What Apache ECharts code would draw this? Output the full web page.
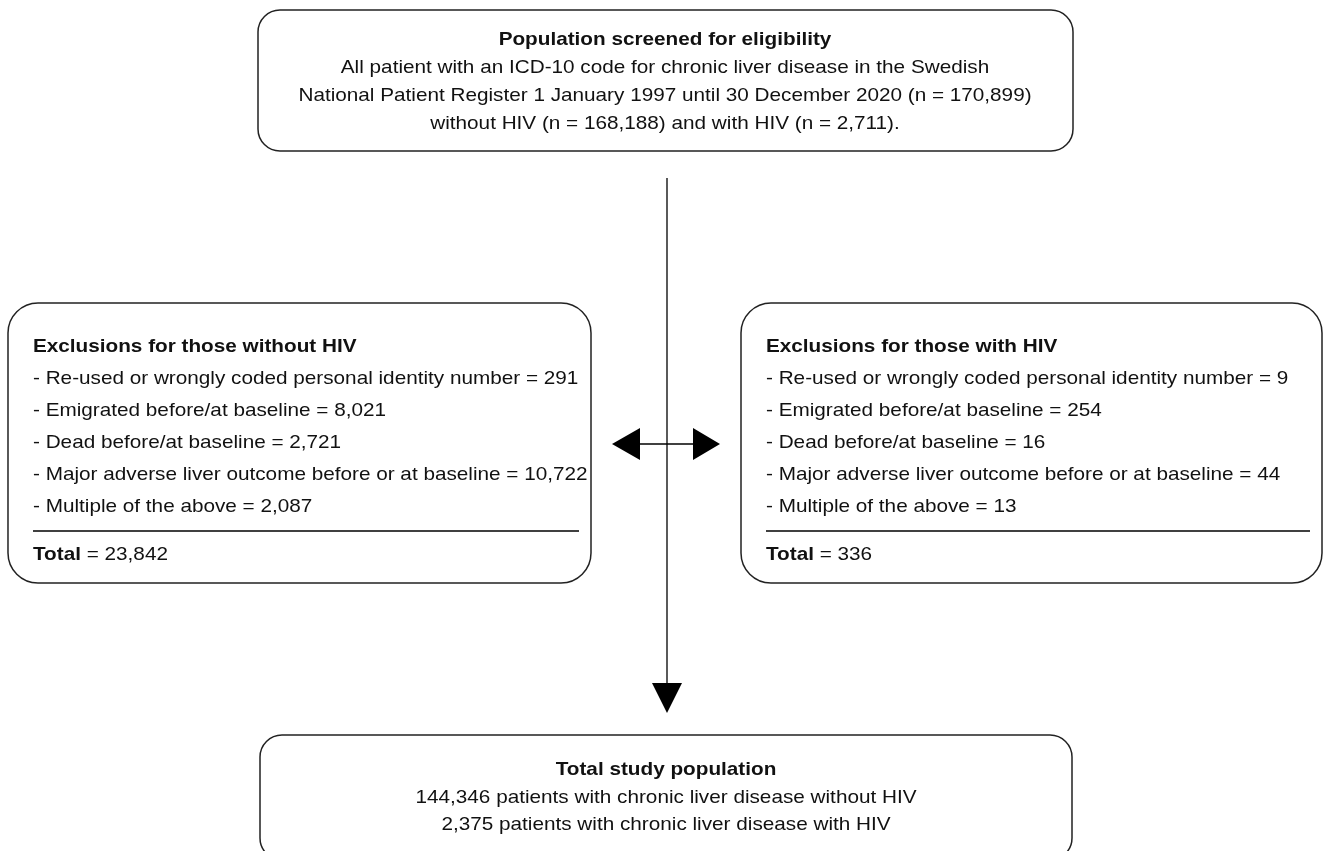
<!DOCTYPE html>
<html>
<head>
<meta charset="utf-8">
<script src="https://cdn.jsdelivr.net/npm/echarts@6/dist/echarts.min.js"></script>
<style>
html, body { margin: 0; padding: 0; background: #fff; }
#chart { width: 1324px; height: 851px; }
</style>
</head>
<body>
<div id="chart"></div>
<script>
// flowchart text
var topTitle = "Population screened for eligibility";
var topLines = [
  "All patient with an ICD-10 code for chronic liver disease in the Swedish",
  "National Patient Register 1 January 1997 until 30 December 2020 (n = 170,899)",
  "without HIV (n = 168,188) and with HIV (n = 2,711)."
];
var leftTitle = "Exclusions for those without HIV";
var leftItems = [
  "- Re-used or wrongly coded personal identity number = 291",
  "- Emigrated before/at baseline = 8,021",
  "- Dead before/at baseline = 2,721",
  "- Major adverse liver outcome before or at baseline = 10,722",
  "- Multiple of the above = 2,087"
];
var leftTotal = "23,842";
var rightTitle = "Exclusions for those with HIV";
var rightItems = [
  "- Re-used or wrongly coded personal identity number = 9",
  "- Emigrated before/at baseline = 254",
  "- Dead before/at baseline = 16",
  "- Major adverse liver outcome before or at baseline = 44",
  "- Multiple of the above = 13"
];
var rightTotal = "336";
var bottomTitle = "Total study population";
var bottomLines = [
  "144,346 patients with chronic liver disease without HIV",
  "2,375 patients with chronic liver disease with HIV"
];

var FONT = '"Liberation Sans", Arial, sans-serif';
var FS = 18.5;
var SX = 1.12; // the source text is a bit wider than Arial
var INK = "#111";

function box(x, y, w, h, r) {
  return {
    type: "rect",
    shape: { x: x, y: y, width: w, height: h, r: r },
    style: { fill: "#fff", stroke: "#222", lineWidth: 1.5 }
  };
}

function txt(t, x, y, align, bold, rich) {
  var st = {
    text: t, x: 0, y: 0, fill: INK,
    font: (bold ? "bold " : "") + FS + "px " + FONT,
    textAlign: align, textVerticalAlign: "middle"
  };
  if (rich) st.rich = rich;
  return { type: "text", x: x, y: y, scaleX: SX, style: st };
}

function line(x1, y1, x2, y2) {
  return {
    type: "line",
    shape: { x1: x1, y1: y1, x2: x2, y2: y2 },
    style: { stroke: "#000", lineWidth: 1.3 }
  };
}

function tri(points) {
  return { type: "polygon", shape: { points: points }, style: { fill: "#000" } };
}

function sideBox(x, w, title, items, total) {
  var els = [box(x, 303, w, 280, 30)];
  var tx = x + 25;
  els.push(txt(title, tx, 347, "left", true));
  items.forEach(function (s, i) {
    els.push(txt(s, tx, 379 + i * 32, "left", false));
  });
  els.push(line(tx, 531, x + w - 12, 531));
  els.push(txt("{b|Total} = " + total, tx, 555, "left", false, {
    b: { fontWeight: "bold", fontSize: FS, fontFamily: FONT, fill: INK }
  }));
  return els;
}

var chart = echarts.init(document.getElementById("chart"));
var els = [];

// arrows
els.push(line(667, 178, 667, 690));
els.push(tri([[652, 683], [682, 683], [667, 713]]));
els.push(line(636, 444, 698, 444));
els.push(tri([[612, 444], [640, 428], [640, 460]]));
els.push(tri([[720, 444], [693, 428], [693, 460]]));

// top box
els.push(box(258, 10, 815, 141, 22));
els.push(txt(topTitle, 665, 40, "center", true));
topLines.forEach(function (s, i) {
  els.push(txt(s, 665, 68 + i * 28, "center", false));
});

els = els.concat(sideBox(8, 583, leftTitle, leftItems, leftTotal));
els = els.concat(sideBox(741, 581, rightTitle, rightItems, rightTotal));

// bottom box
els.push(box(260, 735, 812, 125, 22));
els.push(txt(bottomTitle, 666, 770, "center", true));
bottomLines.forEach(function (s, i) {
  els.push(txt(s, 666, 798 + i * 27, "center", false));
});

chart.setOption({
  backgroundColor: "#fff",
  animation: false,
  graphic: { elements: els }
});
</script>
</body>
</html>
